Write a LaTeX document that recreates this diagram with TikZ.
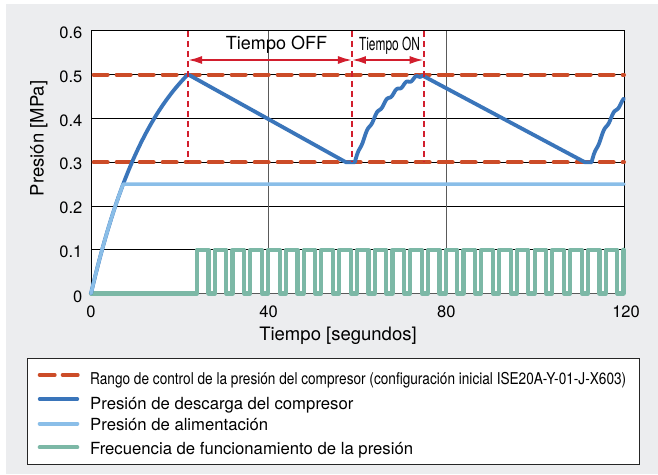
\documentclass[tikz,border=0pt]{standalone}
\usepackage{fontspec}
\setmainfont{TeX Gyre Heros}
\usepackage{graphicx}
\usetikzlibrary{arrows.meta}
\definecolor{bgc}{RGB}{236,237,239}
\definecolor{rangec}{RGB}{204,76,40}
\definecolor{darkb}{RGB}{58,117,186}
\definecolor{lightb}{RGB}{138,190,232}
\definecolor{greenc}{RGB}{124,184,166}
\definecolor{redc}{RGB}{210,30,45}
\definecolor{gridvc}{RGB}{90,90,90}
\tikzset{
 ticklab/.style={font=\fontsize{16.5}{18}\selectfont, inner sep=0pt},
 axtitle/.style={font=\fontsize{18.5}{20}\selectfont, inner sep=0pt},
 legtext/.style={font=\fontsize{16.7}{19}\selectfont, inner sep=0pt, anchor=base west},
 rangeline/.style={rangec, line width=4pt, dash pattern=on 14pt off 9pt, line cap=round},
 disch/.style={darkb, line width=3.8pt, line join=round, line cap=round},
 supply/.style={lightb, line width=3.5pt, line cap=round, line join=round},
 freq/.style={greenc, line width=4.2pt, line join=round, line cap=round},
 redv/.style={redc, line width=1.8pt, dash pattern=on 6pt off 4pt},
 redarrow/.style={redc, line width=2pt, {Latex[length=14pt,width=8pt]}-{Latex[length=14pt,width=8pt]}},
 gridh/.style={black, line width=0.9pt},
 gridv/.style={gridvc, line width=1.1pt},
}
\begin{document}
\begin{tikzpicture}[x=1pt,y=1pt]
\useasboundingbox (0,0) rectangle (658,474);
\fill[bgc] (6,0) rectangle (658,470);
\fill[white] (91,180.5) rectangle (624,443);
\begin{scope}[shift={(91,180.5)}, x=4.4417pt, y=437.5pt]
  % grid
  \foreach \v in {0.1,0.2,0.3,0.4,0.5} \draw[gridh] (0,\v) -- (120,\v);
  \foreach \t in {40,80} \draw[gridv] (\t,0) -- (\t,0.6);
  \draw[gridvc, line width=1pt] (0,0) -- (120,0);
  \draw[black, line width=1pt] (0,0) -- (0,0.6) -- (120,0.6) -- (120,0);
  % frequency
  \draw[freq] (0,0) -- (23.87,0)
    \foreach \k in {0,...,23} { -- ({23.87+4*\k},0.1) -- ({23.87+4*\k+2.6},0.1) -- ({23.87+4*\k+2.6},0) -- ({23.87+4*\k+4},0) }
    -- (119.87,0.1);
  % range lines
  \draw[rangeline] (0.6,0.5) -- (120,0.5);
  \draw[rangeline] (0.6,0.3) -- (120,0.3);
  % discharge pressure
  \draw[disch] plot[domain=0:21.84, samples=60, smooth] (\x,{0.653*(1-exp(-\x/15))})
    -- (57.4,0.3) -- (59.4,0.3)
    -- plot[domain=59.4:74.6, samples=150] (\x,{0.3+0.2*(1-exp(-2*(\x-59.4)/15.2))/0.8647+0.003*sin(163.6*(\x-59.4))})
    -- (111.2,0.3) -- (112.7,0.3)
    -- plot[domain=112.7:120, samples=80] (\x,{0.3+0.2*(1-exp(-2*(\x-112.7)/15.2))/0.8647+0.003*sin(163.6*(\x-112.7))});
  % supply pressure
  \draw[supply] plot[domain=0:7.24, samples=30, smooth] (\x,{0.653*(1-exp(-\x/15))}) -- (120,0.25);
  % red markers
  \coordinate (v1t) at (21.84,0.6); \coordinate (v1b) at (21.84,0.3);
  \coordinate (v2t) at (58.76,0.6); \coordinate (v2b) at (58.76,0.3);
  \coordinate (v3t) at (74.9,0.6);  \coordinate (v3b) at (74.9,0.3);
  \draw[redv] (v1t) -- (v1b);
  \draw[redv] (v2t) -- (v2b);
  \draw[redv] (v3t) -- (v3b);
  \coordinate (a1) at (21.84,0.5337); \coordinate (a2) at (58.76,0.5337); \coordinate (a3) at (74.9,0.5337);
  \draw[redarrow] (a1) -- (a2);
  \draw[redarrow] (a2) -- (a3);
  % tick labels
  \node[ticklab, anchor=east] (y6) at ([xshift=-8.5pt,yshift=-2pt]0,0.6) {0.6};
  \node[ticklab, anchor=east] (y5) at ([xshift=-8.5pt,yshift=-2pt]0,0.5) {0.5};
  \node[ticklab, anchor=east] (y4) at ([xshift=-8.5pt,yshift=-2pt]0,0.4) {0.4};
  \node[ticklab, anchor=east] (y3) at ([xshift=-8.5pt,yshift=-2pt]0,0.3) {0.3};
  \node[ticklab, anchor=east] (y2) at ([xshift=-8.5pt,yshift=-2pt]0,0.2) {0.2};
  \node[ticklab, anchor=east] (y1) at ([xshift=-8.5pt,yshift=-2pt]0,0.1) {0.1};
  \node[ticklab, anchor=east] (y0) at ([xshift=-8.5pt,yshift=-3.5pt]0,0) {0};
  \node[ticklab] (x0) at ([yshift=-18pt]0,0) {0};
  \node[ticklab] (x40) at ([yshift=-18pt]40,0) {40};
  \node[ticklab] (x80) at ([yshift=-18pt]80,0) {80};
  \node[ticklab] (x120) at ([xshift=2pt,yshift=-18pt]120,0) {120};
\end{scope}
% labels above arrows
\node[axtitle, anchor=base, font=\fontsize{18}{20}\selectfont] (toff) at (276.5,424) {Tiempo OFF};
\node[axtitle, anchor=base] (ton) at (389.5,423) {\resizebox{61pt}{\height}{\fontsize{18}{20}\selectfont Tiempo ON}};
% axis titles
\node[axtitle, anchor=base] (xt) at (338,133.3) {Tiempo [segundos]};
\node[axtitle, anchor=base, rotate=90] (yt) at (43.5,335.5) {Presión [MPa]};
% legend
\draw[fill=white, draw=black!85, line width=1pt] (27.7,9.3) rectangle (639,115.7);
\coordinate (l1a) at (39.7,99); \coordinate (l1b) at (78,99);
\coordinate (l2a) at (39.7,75); \coordinate (l2b) at (77.3,75);
\coordinate (l3a) at (39.7,50.3); \coordinate (l3b) at (77.3,50.3);
\coordinate (l4a) at (39.7,26.7); \coordinate (l4b) at (77.3,26.7);
\draw[rangeline, dash pattern=on 15pt off 8pt] (l1a) -- (l1b);
\draw[disch] (l2a) -- (l2b);
\draw[supply, line width=4pt] (l3a) -- (l3b);
\draw[freq, line width=4pt] (l4a) -- (l4b);
\node[legtext] (t1) at (90,90) {\resizebox{536pt}{\height}{\fontsize{16.3}{18}\selectfont Rango de control de la presión del compresor (configuración inicial ISE20A-Y-01-J-X603)}};
\node[legtext] (t2) at (90,64.7) {Presión de descarga del compresor};
\node[legtext] (t3) at (90,44) {Presión de alimentación};
\node[legtext] (t4) at (90,20) {Frecuencia de funcionamiento de la presión};
\end{tikzpicture}
\end{document}
